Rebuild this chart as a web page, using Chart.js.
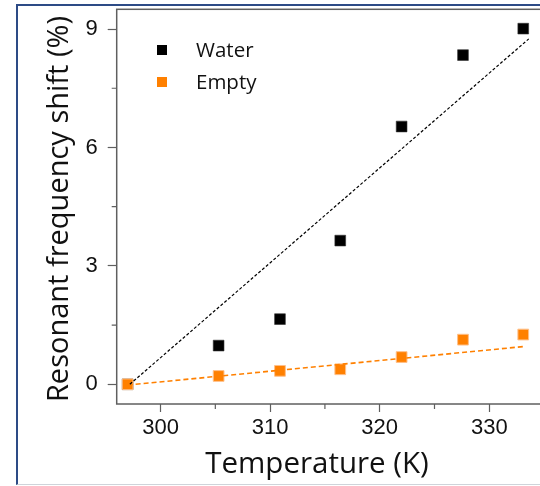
<!DOCTYPE html>
<html>
<head>
<meta charset="utf-8">
<script src="https://cdn.jsdelivr.net/npm/chart.js@4.4.1/dist/chart.umd.min.js"></script>
<style>
  html, body { margin: 0; padding: 0; width: 540px; height: 486px; overflow: hidden; background: #fff; }
  #frame { position: absolute; left: 16px; top: 4px; width: 600px; height: 478px;
           border-left: 2px solid #2d4b86; border-top: 2px solid #2d4b86; border-bottom: 1px solid #cfd4da; }
  #wrap { position: absolute; left: 0; top: 0; width: 600px; height: 486px; }
</style>
</head>
<body>
<div id="frame"></div>
<div id="wrap"><canvas id="c" width="600" height="486"></canvas></div>
<script>
// Measured temperatures (K) and resonant frequency shift (%)
const temperature = [297.0, 305.3, 310.9, 316.4, 322.0, 327.6, 333.1];
const waterShift  = [0.00, 0.98, 1.65, 3.64, 6.53, 8.34, 9.01];
const emptyShift  = [0.00, 0.21, 0.34, 0.38, 0.69, 1.13, 1.26];

// Linear fit lines (start / end)
const waterFitT = [297.2, 333.6];
const waterFitY = [0.00, 8.75];
const emptyFitT = [297.0, 333.3];
const emptyFitY = [-0.02, 0.96];

// Axis ticks
const xTicks = [300, 305, 310, 315, 320, 325, 330, 335];
const xLabels = [300, 310, 320, 330];
const yTicks = [0, 1.5, 3, 4.5, 6, 7.5, 9];
const yLabels = [0, 3, 6, 9];

const seriesNames = ['Water', 'Empty'];
const seriesColors = ['#000000', '#ff8000'];

const pts = (xs, ys) => xs.map((x, i) => ({ x: x, y: ys[i] }));

const AXIS_COLOR = '#5f5f5f';
const TEXT_COLOR = '#111111';

const isMajorX = v => xLabels.includes(v);
const isMajorY = v => yLabels.includes(v);

const decorations = {
  id: 'decorations',
  afterDraw(chart) {
    const ctx = chart.ctx;
    const a = chart.chartArea;
    const xs = chart.scales.x, ys = chart.scales.y;
    ctx.save();
    // plot frame
    ctx.strokeStyle = AXIS_COLOR;
    ctx.lineWidth = 1.5;
    ctx.strokeRect(a.left, a.top, a.right - a.left, a.bottom - a.top);
    // minor ticks
    ctx.lineWidth = 1.2;
    ctx.beginPath();
    xTicks.filter(v => !isMajorX(v)).forEach(v => {
      const px = xs.getPixelForValue(v);
      ctx.moveTo(px, a.bottom); ctx.lineTo(px, a.bottom + 5);
    });
    yTicks.filter(v => !isMajorY(v)).forEach(v => {
      const py = ys.getPixelForValue(v);
      ctx.moveTo(a.left, py); ctx.lineTo(a.left - 5, py);
    });
    ctx.stroke();

    // legend
    const legendY = [50, 82];
    ctx.font = '20.5px "Open Sans"';
    ctx.textBaseline = 'middle';
    ctx.textAlign = 'left';
    seriesNames.forEach((name, i) => {
      ctx.fillStyle = seriesColors[i];
      ctx.fillRect(157, legendY[i] - 5, 10, 10);
      ctx.fillStyle = TEXT_COLOR;
      ctx.fillText(name, 196, legendY[i] + 1.5);
    });

    // axis titles
    ctx.fillStyle = TEXT_COLOR;
    ctx.textAlign = 'center';
    ctx.textBaseline = 'alphabetic';
    ctx.font = '29.5px "Open Sans"';
    ctx.fillText('Temperature (K)', 317, 473);
    ctx.save();
    ctx.translate(68, 209);
    ctx.rotate(-Math.PI / 2);
    ctx.font = '29px "Open Sans"';
    ctx.fillText('Resonant frequency shift (%)', 0, 0);
    ctx.restore();
    ctx.restore();
  }
};

new Chart(document.getElementById('c'), {
  type: 'scatter',
  data: {
    datasets: [
      { label: 'Water fit', data: pts(waterFitT, waterFitY), showLine: true,
        borderColor: '#000', borderWidth: 1.2, borderDash: [3, 2], pointRadius: 0, order: 0 },
      { label: 'Empty fit', data: pts(emptyFitT, emptyFitY), showLine: true,
        borderColor: seriesColors[1], borderWidth: 1.6, borderDash: [5, 3], pointRadius: 0, order: 1 },
      { label: seriesNames[1], data: pts(temperature, emptyShift), pointStyle: 'rect',
        pointRadius: 7.6, backgroundColor: seriesColors[1], borderColor: '#ffc08a', borderWidth: 1, order: 2 },
      { label: seriesNames[0], data: pts(temperature, waterShift), pointStyle: 'rect',
        pointRadius: 7.6, backgroundColor: seriesColors[0], borderColor: '#333', borderWidth: 0.6, order: 3 }
    ]
  },
  options: {
    responsive: false,
    animation: false,
    devicePixelRatio: 1,
    layout: { padding: { left: 0, top: 9.3, right: 34, bottom: 0 } },
    plugins: { legend: { display: false }, tooltip: { enabled: false } },
    scales: {
      x: {
        type: 'linear', min: 296, max: 337,
        afterFit(s) { s.height = 82; s.paddingLeft = 0; s.paddingRight = 0; },
        afterBuildTicks(s) { s.ticks = xTicks.map(v => ({ value: v })); },
        border: { display: false },
        grid: { drawOnChartArea: false, drawTicks: true, tickLength: 8, tickWidth: 1.2,
                tickColor: c => (c.tick && isMajorX(c.tick.value)) ? AXIS_COLOR : 'rgba(0,0,0,0)' },
        ticks: { color: TEXT_COLOR, padding: 3, maxRotation: 0, autoSkip: false,
                 font: { family: '"Liberation Sans", Arial, sans-serif', size: 22 },
                 callback: v => isMajorX(v) ? String(v) : '' }
      },
      y: {
        type: 'linear', min: -0.5, max: 9.5,
        afterFit(s) { s.width = 116.7; s.paddingTop = 0; s.paddingBottom = 0; },
        afterBuildTicks(s) { s.ticks = yTicks.map(v => ({ value: v })); },
        border: { display: false },
        grid: { drawOnChartArea: false, drawTicks: true, tickLength: 9, tickWidth: 1.2,
                tickColor: c => (c.tick && isMajorY(c.tick.value)) ? AXIS_COLOR : 'rgba(0,0,0,0)' },
        ticks: { color: TEXT_COLOR, padding: 10, autoSkip: false,
                 font: { family: '"Liberation Sans", Arial, sans-serif', size: 22 },
                 callback: v => isMajorY(v) ? String(v) : '' }
      }
    }
  },
  plugins: [decorations]
});
</script>
</body>
</html>
